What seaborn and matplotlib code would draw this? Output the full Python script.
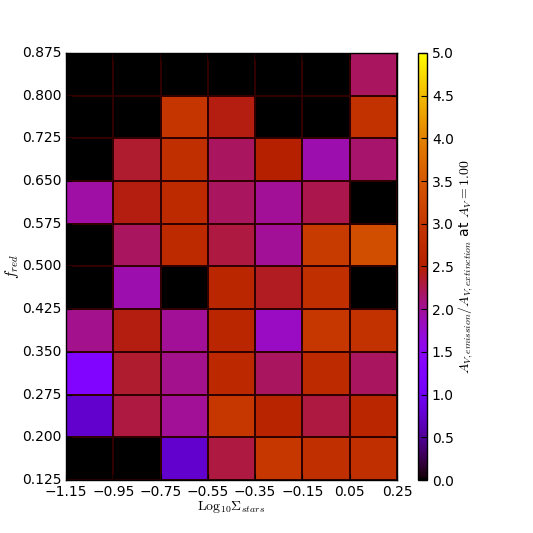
import numpy as np
import pandas as pd
import matplotlib
matplotlib.use('Agg')
import matplotlib.pyplot as plt
import seaborn as sns

# bin edges
x_edges = [-1.15, -0.95, -0.75, -0.55, -0.35, -0.15, 0.05, 0.25]
y_edges = [0.125, 0.200, 0.275, 0.350, 0.425, 0.500, 0.575, 0.650, 0.725, 0.800, 0.875]

# ratio per cell, rows from bottom (f_red = 0.125-0.200) to top
row_0125 = [0.0, 0.0, 0.75, 2.3, 3.0, 2.85, 2.85]
row_0200 = [0.75, 2.3, 2.0, 3.0, 2.6, 2.3, 2.65]
row_0275 = [1.25, 2.35, 2.05, 2.7, 2.2, 2.75, 2.2]
row_0350 = [2.05, 2.45, 2.0, 2.65, 1.8, 3.0, 2.9]
row_0425 = [0.0, 1.9, 0.0, 2.65, 2.4, 2.85, 0.0]
row_0500 = [0.0, 2.2, 2.75, 2.3, 2.0, 3.05, 3.35]
row_0575 = [1.95, 2.45, 2.75, 2.2, 2.0, 2.25, 0.0]
row_0650 = [0.0, 2.35, 2.85, 2.2, 2.5, 1.9, 2.15]
row_0725 = [0.0, 0.0, 2.95, 2.45, 0.0, 0.0, 2.9]
row_0800 = [0.0, 0.0, 0.0, 0.0, 0.0, 0.0, 2.2]

rows = [row_0125, row_0200, row_0275, row_0350, row_0425,
        row_0500, row_0575, row_0650, row_0725, row_0800]
df = pd.DataFrame(rows)

plt.rcParams['mathtext.fontset'] = 'cm'
plt.rcParams['font.size'] = 10

fig = plt.figure(figsize=(5.33, 5.33), dpi=100)
ax = fig.add_axes([66/533, 53/533, 331/533, 427/533])
cax = fig.add_axes([418/533, 53/533, 9/533, 427/533])

sns.heatmap(df, ax=ax, cbar_ax=cax, cmap='gnuplot', vmin=0, vmax=5,
            linewidths=0.15, linecolor='#300000')
ax.invert_yaxis()

ax.set_xticks(range(len(x_edges)))
ax.set_xticklabels([f'{v:.2f}'.replace('-', '\u2212') for v in x_edges], rotation=0)
ax.set_yticks(range(len(y_edges)))
ax.set_yticklabels([f'{v:.3f}' for v in y_edges], rotation=0)
ax.tick_params(direction='in', top=True, right=True, length=4, labelsize=10)
for s in ax.spines.values():
    s.set_visible(True)
    s.set_color('black')
    s.set_linewidth(1)

ax.set_xlabel(r'$\mathrm{Log}_{10}\Sigma_{stars}$', fontsize=10, labelpad=0)
ax.set_ylabel(r'$f_{red}$', fontsize=11)
ax.yaxis.set_label_coords(-0.135, 0.5)

cb = ax.collections[0].colorbar
cb.outline.set_linewidth(1)
cb.outline.set_edgecolor('black')
cb.set_ticks(np.arange(0, 5.01, 0.5))
cb.set_ticklabels([f'{v:.1f}' for v in np.arange(0, 5.01, 0.5)])
cax.tick_params(labelsize=10, length=4, direction='in')
cb.set_label(r'$A_{V,emission}/A_{V,extinction}$ at $A_V=1.00$', fontsize=10, labelpad=2)

fig.savefig('out.png', dpi=100, facecolor='white')
